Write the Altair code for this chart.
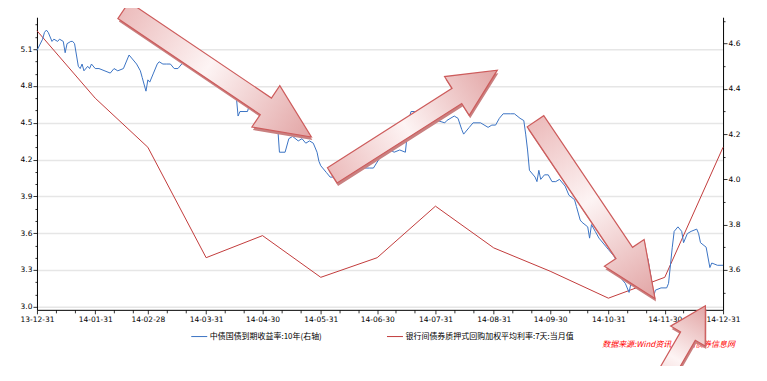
import altair as alt
import pandas as pd

BLUE_NAME = "中债国债到期收益率:10年(右轴)"
RED_NAME = "银行间债券质押式回购加权平均利率:7天:当月值"
SOURCE_TEXT = "数据来源:Wind资讯、中国债券信息网"

blue_dates = [
    "2013-12-31","2014-01-03","2014-01-04","2014-01-05","2014-01-06","2014-01-08","2014-01-09","2014-01-11",
    "2014-01-12","2014-01-14","2014-01-15","2014-01-16","2014-01-18","2014-01-19","2014-01-20","2014-01-22",
    "2014-01-23","2014-01-24","2014-01-25","2014-01-27","2014-01-28","2014-01-29","2014-01-31","2014-02-02",
    "2014-02-08","2014-02-10","2014-02-12","2014-02-15","2014-02-18","2014-02-22","2014-02-24","2014-02-25",
    "2014-02-27","2014-02-28","2014-03-01","2014-03-03","2014-03-05","2014-03-06","2014-03-08","2014-03-10",
    "2014-03-12","2014-03-14","2014-03-16","2014-03-18","2014-03-20","2014-03-22","2014-03-28","2014-04-02",
    "2014-04-07","2014-04-13","2014-04-16","2014-04-17","2014-04-18","2014-04-22","2014-04-23","2014-04-27",
    "2014-05-01","2014-05-05","2014-05-08","2014-05-09","2014-05-12","2014-05-14","2014-05-16","2014-05-19",
    "2014-05-21","2014-05-23","2014-05-25","2014-05-27","2014-05-29","2014-05-30","2014-05-31","2014-06-03",
    "2014-06-05","2014-06-07","2014-06-11","2014-06-15","2014-06-18","2014-06-20","2014-06-26","2014-06-28",
    "2014-07-01","2014-07-02","2014-07-06","2014-07-07","2014-07-09","2014-07-12","2014-07-15","2014-07-16",
    "2014-07-17","2014-07-18","2014-07-20","2014-07-23","2014-07-25","2014-07-28","2014-07-31","2014-08-01",
    "2014-08-05","2014-08-06","2014-08-10","2014-08-12","2014-08-14","2014-08-15","2014-08-18","2014-08-20",
    "2014-08-24","2014-08-28","2014-08-30","2014-09-01","2014-09-03","2014-09-05","2014-09-09","2014-09-11",
    "2014-09-14","2014-09-16","2014-09-17","2014-09-18","2014-09-19","2014-09-22","2014-09-23","2014-09-24",
    "2014-09-25","2014-09-27","2014-09-29","2014-10-01","2014-10-03","2014-10-05","2014-10-08","2014-10-10",
    "2014-10-13","2014-10-14","2014-10-16","2014-10-17","2014-10-20","2014-10-21","2014-10-22","2014-10-24",
    "2014-10-26","2014-10-29","2014-10-31","2014-11-03","2014-11-05","2014-11-07","2014-11-09","2014-11-11",
    "2014-11-13","2014-11-15","2014-11-16","2014-11-17","2014-11-19","2014-11-21","2014-11-23","2014-11-24",
    "2014-11-25","2014-11-28","2014-12-01","2014-12-02","2014-12-04","2014-12-05","2014-12-07","2014-12-09",
    "2014-12-10","2014-12-12","2014-12-14","2014-12-17","2014-12-18","2014-12-19","2014-12-22","2014-12-24",
    "2014-12-25","2014-12-28","2014-12-31",
]
blue_values = [
    4.57,4.62,4.65,4.66,4.65,4.61,4.62,4.61,
    4.62,4.61,4.56,4.60,4.61,4.61,4.60,4.50,
    4.49,4.51,4.48,4.50,4.49,4.51,4.49,4.49,
    4.47,4.49,4.48,4.49,4.55,4.51,4.48,4.45,
    4.39,4.44,4.43,4.47,4.51,4.52,4.51,4.51,
    4.51,4.49,4.49,4.51,4.52,4.52,4.50,4.48,
    4.45,4.40,4.37,4.28,4.30,4.30,4.33,4.30,
    4.27,4.25,4.24,4.12,4.12,4.18,4.19,4.17,
    4.18,4.16,4.17,4.16,4.12,4.08,4.06,4.03,
    4.01,4.01,4.03,4.04,4.05,4.05,4.05,4.05,
    4.09,4.13,4.15,4.13,4.12,4.13,4.12,4.20,
    4.27,4.30,4.30,4.30,4.29,4.28,4.27,4.26,
    4.25,4.26,4.28,4.27,4.22,4.20,4.23,4.25,
    4.25,4.23,4.24,4.24,4.27,4.29,4.29,4.29,
    4.27,4.26,4.20,4.13,4.04,4.01,3.99,4.04,
    4.00,4.02,4.02,3.99,3.99,4.00,3.97,3.93,
    3.91,3.88,3.82,3.81,3.79,3.74,3.80,3.77,
    3.74,3.71,3.69,3.66,3.63,3.56,3.54,3.50,
    3.58,3.66,3.66,3.63,3.65,3.65,3.55,3.48,
    3.51,3.52,3.52,3.54,3.70,3.77,3.79,3.77,
    3.72,3.76,3.77,3.78,3.76,3.72,3.70,3.61,
    3.63,3.62,3.62,
]

red_dates = ["2013-12-31","2014-01-31","2014-02-28","2014-03-31","2014-04-30","2014-05-31","2014-06-30",
             "2014-07-31","2014-08-31","2014-09-30","2014-10-31","2014-11-30","2014-12-31"]
red_values = [5.25, 4.70, 4.30, 3.40, 3.58, 3.24, 3.40, 3.82, 3.48, 3.29, 3.07, 3.24, 4.30]

# decorative arrow annotations, anchored in (date, left-axis value)
arrow_dates = ["2014-04-06", "2014-07-20", "2014-10-24", "2014-12-07"]
arrow_values = [4.90, 4.50, 3.79, 2.62]

BLUE = "#3b73c4"
RED = "#c23b3b"

blue_df = pd.DataFrame({"date": blue_dates, "value": blue_values, "series": BLUE_NAME})
red_df = pd.DataFrame({"date": red_dates, "value": red_values, "series": RED_NAME})

def dt(y, m, d):
    return alt.DateTime(year=y, month=m, date=d, utc=True)

month_ends = [(2013, 12, 31), (2014, 1, 31), (2014, 2, 28), (2014, 3, 31), (2014, 4, 30), (2014, 5, 31),
              (2014, 6, 30), (2014, 7, 31), (2014, 8, 31), (2014, 9, 30), (2014, 10, 31), (2014, 11, 30),
              (2014, 12, 31)]
x_ticks = [dt(*m) for m in month_ends]
for mo in range(1, 13):
    x_ticks.append(dt(2014, mo, 10))
    x_ticks.append(dt(2014, mo, 20))

FONT = "DejaVu Sans"
x_axis = alt.Axis(
    values=x_ticks, title=None, grid=False,
    labelExpr="utcdate(datum.value) >= 28 ? utcFormat(datum.value, '%y-%m-%d') : ''",
    labelFont=FONT, labelFontSize=7.5, labelColor="#000", labelPadding=2,
    tickSize={"condition": {"test": "utcdate(datum.value) >= 28", "value": 4}, "value": 3},
    tickColor="#333", domainColor="#000", labelOverlap=False, labelFlush=False,
)
x_enc = alt.X("date:T", scale=alt.Scale(type="utc", domain=[dt(2013, 12, 31), dt(2014, 12, 31)]), axis=x_axis)

LEFT_DOMAIN = [2.975, 5.36]
RIGHT_DOMAIN = [3.423, 4.717]

left_ticks = [round(3.0 + 0.1 * i, 1) for i in range(24)]
right_ticks = [round(3.5 + 0.1 * i, 1) for i in range(13)]

left_major = "round(datum.value*10) % 3 == 0"
right_major = "round(datum.value*10) % 2 == 0"

left_axis = alt.Axis(
    orient="left", values=left_ticks, title=None,
    labelExpr=f"{left_major} ? format(datum.value, '.1f') : ''",
    labelFont=FONT, labelFontSize=7.5, labelColor="#000", labelPadding=1,
    tickSize={"condition": {"test": left_major, "value": 4}, "value": 2},
    tickColor="#333", domainColor="#000",
    grid=True, gridColor="#e6e6e6", gridWidth=1.5,
    gridOpacity={"condition": {"test": left_major, "value": 1}, "value": 0},
    labelOverlap=False,
)
right_axis = alt.Axis(
    orient="right", values=right_ticks, title=None,
    labelExpr=f"{right_major} ? format(datum.value, '.1f') : ''",
    labelFont=FONT, labelFontSize=7.5, labelColor="#000", labelPadding=1,
    tickSize={"condition": {"test": right_major, "value": 4}, "value": 2},
    tickColor="#333", domainColor="#000", grid=False, labelOverlap=False,
)

color_enc = alt.Color(
    "series:N",
    scale=alt.Scale(domain=[BLUE_NAME, RED_NAME], range=[BLUE, RED]),
    legend=alt.Legend(
        title=None, orient="none", legendX=154, legendY=311, direction="horizontal",
        symbolType="stroke", symbolSize=256, symbolStrokeWidth=1,
        labelFont="Noto Sans CJK SC", labelFontSize=8, labelColor="#000", labelLimit=400,
        columnPadding=62, labelOffset=2, padding=0,
    ),
)

red_line = alt.Chart(red_df).mark_line(strokeWidth=1).encode(
    x=x_enc,
    y=alt.Y("value:Q", scale=alt.Scale(domain=LEFT_DOMAIN, nice=False, zero=False), axis=left_axis),
    color=color_enc,
)
blue_line = alt.Chart(blue_df).mark_line(strokeWidth=1).encode(
    x=x_enc,
    y=alt.Y("value:Q", scale=alt.Scale(domain=RIGHT_DOMAIN, nice=False, zero=False), axis=right_axis),
    color=color_enc,
)

source = alt.Chart(pd.DataFrame({"t": [SOURCE_TEXT]})).mark_text(
    align="left", baseline="middle", font="Noto Sans CJK SC", fontSize=8,
    fontStyle="italic", color="#ff0000",
).encode(text="t:N", x=alt.value(566), y=alt.value(328))

# arrow styles: (length, shaft width, head width, head length, angle) in pixels/degrees
arrow_styles = [
    (227, 20, 50, 55, 34),
    (196, 18, 46, 48, 327.5),
    (214, 20, 48, 55, 56),
    (110, 17, 40, 35, 300),
]

def arrow_path(L, sw, hw, hl):
    w = sw / L
    h = hw / L
    b = 1 - 2 * hl / L
    return (f"M -1 {-w:.4f} L {b:.4f} {-w:.4f} L {b:.4f} {-h:.4f} L 1 0 "
            f"L {b:.4f} {h:.4f} L {b:.4f} {w:.4f} L -1 {w:.4f} Z")

grad = alt.LinearGradient(
    gradient="linear", x1=0, y1=0, x2=1, y2=0,
    stops=[alt.GradientStop(color="#ecbcbc", offset=0),
           alt.GradientStop(color="#fdf4f4", offset=0.45),
           alt.GradientStop(color="#e2a4a4", offset=1)],
)

arrow_layers = []
for i, (L, sw, hw, hl, ang) in enumerate(arrow_styles):
    df = pd.DataFrame({"date": [arrow_dates[i]], "value": [arrow_values[i]]})
    path = arrow_path(L, sw, hw, hl)
    y_enc = alt.Y("value:Q", scale=alt.Scale(domain=LEFT_DOMAIN, nice=False, zero=False), axis=None)
    shadow = alt.Chart(df).mark_point(
        shape=path, size=L * L, angle=ang, filled=True, fill="#c98080", strokeWidth=0,
        opacity=1, xOffset=1, yOffset=3,
    ).encode(x=x_enc, y=y_enc)
    body = alt.Chart(df).mark_point(
        shape=path, size=L * L, angle=ang, filled=True, fill=grad, stroke="#cd5c5c",
        strokeWidth=1.2, opacity=1,
    ).encode(x=x_enc, y=y_enc)
    arrow_layers.append(alt.layer(shadow, body))

chart = alt.layer(red_line, blue_line, source, *arrow_layers).resolve_scale(
    y="independent"
).properties(
    width=687, height=293,
    autosize=alt.AutoSizeParams(type="none"),
    padding={"left": 29, "top": 9, "right": 36, "bottom": 56},
    background="white",
).configure_view(stroke=None)

chart.save("out.html", embed_options={"renderer": "svg", "actions": False})
